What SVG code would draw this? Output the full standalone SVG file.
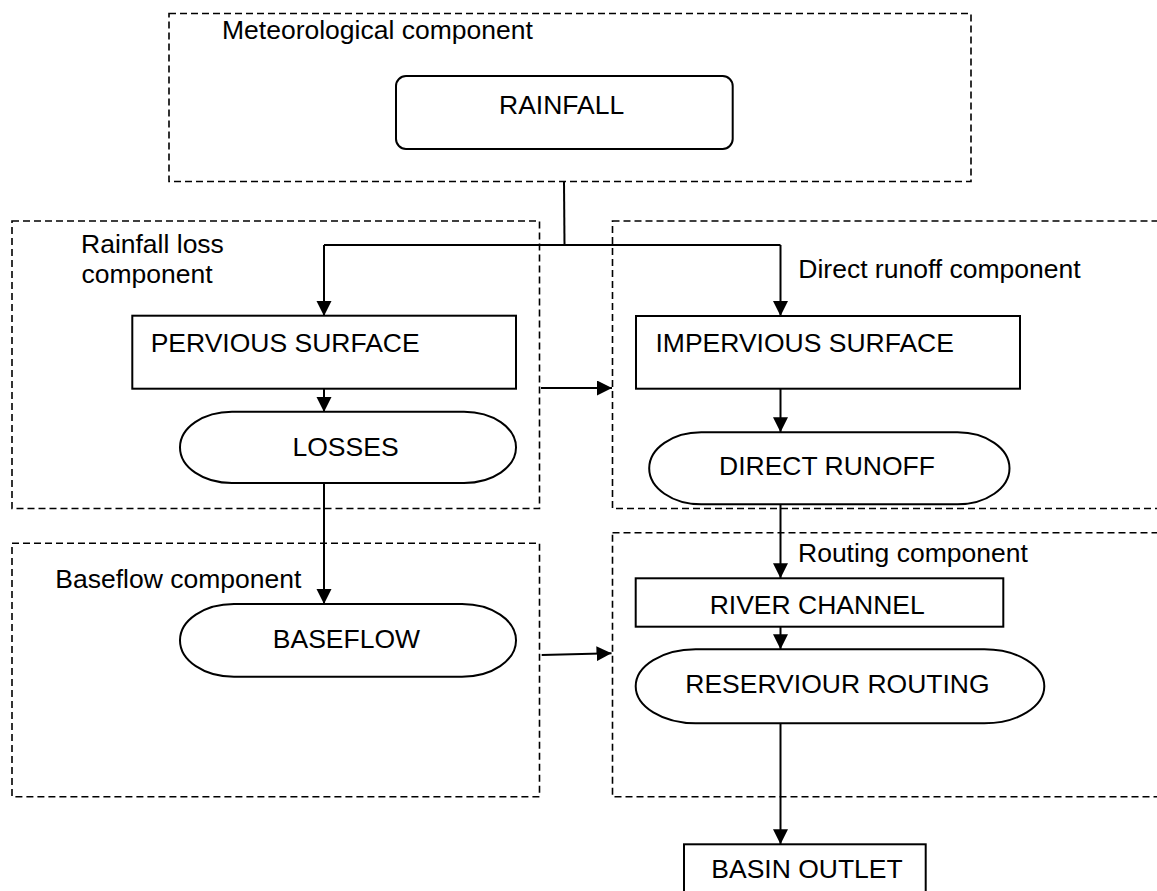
<svg xmlns="http://www.w3.org/2000/svg" width="1157" height="891" viewBox="0 0 1157 891">
<style>
text{font-family:"Liberation Sans",Arial,sans-serif;font-size:26.5px;fill:#000}
.grp{fill:none;stroke:#000;stroke-width:1.6;stroke-dasharray:7 4}
.box{fill:#fff;stroke:#000;stroke-width:2}
.con{fill:none;stroke:#000;stroke-width:2}
.arr{marker-end:url(#ah)}
</style>
<defs>
<marker id="ah" markerUnits="userSpaceOnUse" markerWidth="16" markerHeight="16" refX="15" refY="7.5" orient="auto">
<path d="M0,0 L15,7.5 L0,15 z" fill="#000"/>
</marker>
</defs>
<rect width="1157" height="891" fill="#fff"/>

<g id="groups">
<g id="meteorological"><rect class="grp" x="169" y="13.5" width="802" height="168"/><text x="222" y="38.5">Meteorological component</text></g>
<g id="rainfall-loss"><rect class="grp" x="12" y="221" width="527.5" height="287.5"/><text x="81" y="252.7">Rainfall loss</text><text x="81.5" y="283">component</text></g>
<g id="direct-runoff"><rect class="grp" x="612.5" y="221" width="560" height="287.5"/><text x="798.3" y="278.3">Direct runoff component</text></g>
<g id="baseflow-comp"><rect class="grp" x="12" y="543.3" width="527.5" height="253.4"/><text x="55.3" y="588.3">Baseflow component</text></g>
<g id="routing"><rect class="grp" x="612.5" y="532.7" width="560" height="264"/><text x="798" y="561.7">Routing component</text></g>
</g>

<g id="connectors">
<path class="con" d="M564,181.5 L564.5,245"/>
<path class="con" d="M324,245 L780.5,245"/>
<path class="con arr" d="M324,245 L324,316"/>
<path class="con arr" d="M780.5,245 L780.5,316"/>
<path class="con arr" d="M324,389 L324,412"/>
<path class="con arr" d="M324,483 L324,604"/>
<path class="con arr" d="M541,388 L612,388"/>
<path class="con arr" d="M780.5,387 L780.5,432.3"/>
<path class="con arr" d="M780.5,504.3 L780.5,578.3"/>
<path class="con arr" d="M780.5,626.7 L780.5,649.3"/>
<path class="con arr" d="M780.5,723.3 L780.5,844.3"/>
<path class="con arr" d="M541.7,655 L611.5,653.3"/>
</g>

<g id="rainfall"><rect class="box" x="396" y="76" width="336.7" height="73" rx="10" ry="10"/><text x="499" y="113.7">RAINFALL</text></g>
<g id="pervious"><rect class="box" x="132.3" y="315.7" width="383.7" height="73"/><text x="150.7" y="351.7">PERVIOUS SURFACE</text></g>
<g id="impervious"><rect class="box" x="636" y="316" width="384" height="72.7"/><text x="655.5" y="351.7">IMPERVIOUS SURFACE</text></g>
<g id="losses"><rect class="box" x="180" y="411.7" width="336" height="71.3" rx="52" ry="35.6"/><text x="292.5" y="455.7">LOSSES</text></g>
<g id="direct-runoff-node"><rect class="box" x="649.2" y="432.3" width="360.3" height="72" rx="52" ry="36"/><text x="719" y="475">DIRECT RUNOFF</text></g>
<g id="baseflow"><rect class="box" x="180" y="604" width="336" height="72.7" rx="54" ry="36.3"/><text x="272.8" y="647.7">BASEFLOW</text></g>
<g id="river-channel"><rect class="box" x="635.7" y="578.3" width="367.6" height="48.4"/><text x="709.7" y="613.5">RIVER CHANNEL</text></g>
<g id="reservoir"><rect class="box" x="635.7" y="649.3" width="408.6" height="74" rx="60" ry="37"/><text x="685.3" y="692.7">RESERVIOUR ROUTING</text></g>
<g id="basin-outlet"><rect class="box" x="684" y="844.3" width="241.7" height="60"/><text x="711.3" y="877.7">BASIN OUTLET</text></g>
</svg>
